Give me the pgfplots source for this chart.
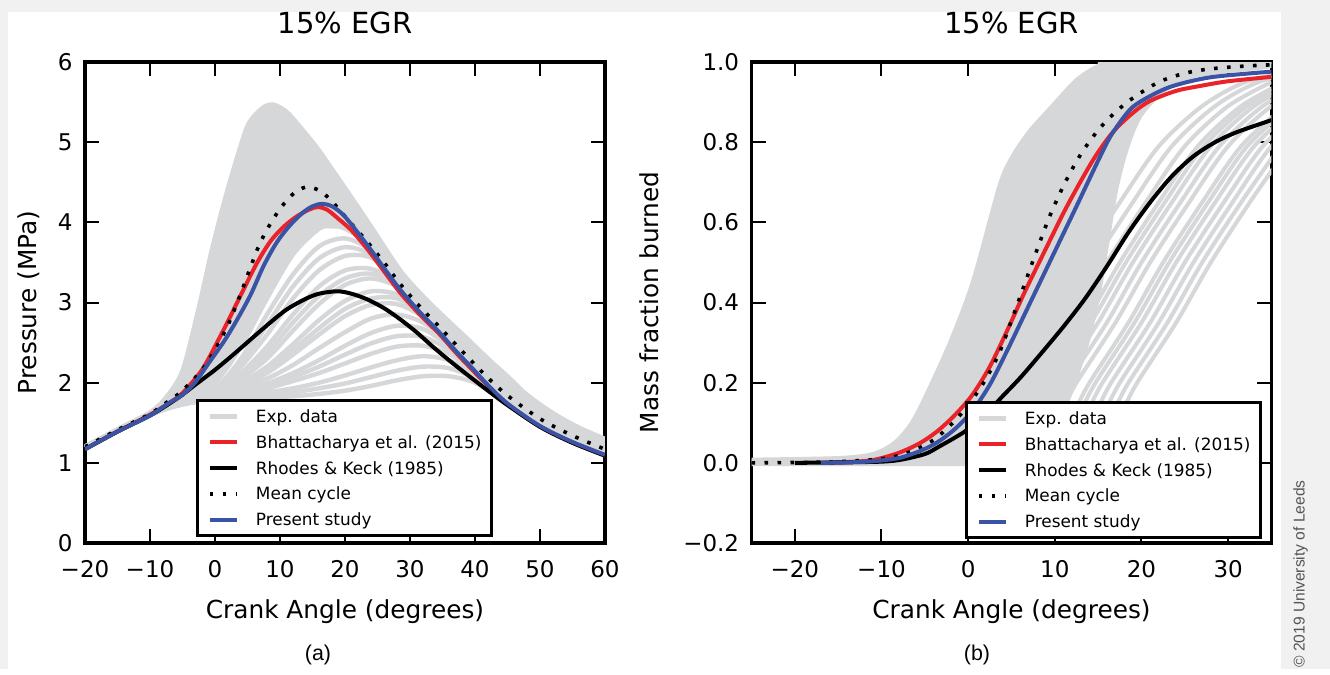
\documentclass[border=0pt]{standalone}
\usepackage{pgfplots}
\pgfplotsset{compat=1.18}
\usepackage{fontspec}
\setmainfont{DejaVu Sans}
\newfontfamily\arialfont{Liberation Sans}
\definecolor{expgray}{RGB}{214,215,217}
\definecolor{bred}{RGB}{234,35,40}
\definecolor{pblue}{RGB}{58,83,164}
\definecolor{bggray}{RGB}{241,241,241}
\definecolor{copygray}{RGB}{85,85,85}
\pgfplotsset{
  panel/.style={
    scale only axis, width=260pt, height=240.5pt,
    axis line style={line width=1.8pt},
    tick align=inside, xtick pos=both, ytick pos=both,
    major tick length=7pt,
    tick style={line width=1pt, black},
    tick label style={font=\fontsize{11.5}{13}\selectfont},
    xticklabel style={anchor=base, yshift=-17pt, inner sep=0pt},
    yticklabel style={anchor=east, xshift=-6pt, inner sep=0pt},
    label style={font=\fontsize{12.4}{15}\selectfont},
    xlabel style={at={(axis description cs:0.5,-0.156)}, anchor=base},
    title style={font=\fontsize{14.5}{17}\selectfont, at={(axis description cs:0.5,1)}, anchor=base, yshift=8.2pt},
    legend cell align=left,
    legend style={anchor=north west, draw=black, line width=1.5pt, fill=white,
      font=\fontsize{8.45}{10}\selectfont, inner xsep=5pt, inner ysep=1.5pt,
      column sep=8.5pt, row sep=0pt,
      nodes={inner sep=0pt, text height=9.5pt, text depth=3.4pt}},
    legend image code/.code={\draw[#1] (0pt,0pt) -- (13.5pt,0pt);},
  },
  exp/.style={expgray, line width=2.2pt, smooth, forget plot},
  expr/.style={expgray, line width=2pt, smooth, forget plot},
  redl/.style={bred, line width=2pt, smooth},
  blackl/.style={black, line width=2pt, smooth},
  bluel/.style={pblue, line width=2pt, smooth},
  meanl/.style={black, line width=1.8pt, dash pattern=on 1.8pt off 4.7pt, smooth},
}
\begin{document}
\begin{tikzpicture}
\fill[bggray] (0pt,0pt) rectangle (665pt,-334.5pt);
\fill[white] (4pt,-6pt) rectangle (640.5pt,-334.5pt);

% ---------------- Panel (a) ----------------
\begin{axis}[panel, at={(42.5pt,-271.5pt)}, anchor=south west,
  xmin=-20, xmax=60, ymin=0, ymax=6,
  xtick={-20,-10,0,10,20,30,40,50,60}, xticklabels={−20,−10,0,10,20,30,40,50,60},
  ytick={0,1,2,3,4,5,6}, yticklabels={0,1,2,3,4,5,6},
  title={15\% EGR}, xlabel={Crank Angle (degrees)}, ylabel={Pressure (MPa)},
  ylabel style={at={(axis description cs:-0.0933,0.5)}, anchor=base},
  legend style={at={(axis description cs:0.2135,0.2994)}}]
% envelope of the dense experimental cycles (upper cycle, then lower cycle reversed)
\addplot[fill=expgray, draw=none, smooth, forget plot] coordinates {(-20,1.2) (-15,1.42) (-10,1.63) (-7.5,1.82) (-5,2.15) (-2.6,2.9) (-0.5,3.65) (1.5,4.28) (3.4,4.81) (5.1,5.22) (7.2,5.42) (8.9,5.47) (11,5.38) (13,5.2) (15.8,4.92) (18.2,4.64) (20,4.43) (24,3.95) (28.5,3.4) (32,3.08) (35,2.84) (38.8,2.55) (42,2.3) (45,2.08) (48,1.85) (52,1.62) (56,1.44) (60,1.3)
 (60,1.16) (55,1.32) (50,1.52) (45,1.8) (40,2.15) (36,2.5) (32,2.9) (28,3.3) (24,3.7) (20,3.92) (18,3.95) (16,3.92) (12,3.6) (8,3.05) (4,2.45) (0,2.0) (-5,1.76) (-10,1.6) (-15,1.41) (-20,1.2)} -- cycle;
\addplot[exp] coordinates {(-20,1.2) (-15,1.42) (-10,1.63) (-7.5,1.82) (-5,2.15) (-2.6,2.9) (-0.5,3.65) (1.5,4.28) (3.4,4.81) (5.1,5.22) (7.2,5.42) (8.9,5.47) (11,5.38) (13,5.2) (15.8,4.92) (18.2,4.64) (20,4.43) (24,3.95) (28.5,3.4) (32,3.08) (35,2.84) (38.8,2.55) (42,2.3) (45,2.08) (48,1.85) (52,1.62) (56,1.44) (60,1.3)};
\addplot[exp] coordinates {(-20,1.2) (-15,1.41) (-10,1.6) (-5,1.76) (0,2.0) (4,2.45) (8,3.05) (12,3.6) (16,3.92) (18,3.95) (20,3.92) (24,3.7) (28,3.3) (32,2.9) (36,2.5) (40,2.15) (45,1.8) (50,1.52) (55,1.32) (60,1.16)};
\addplot[exp] coordinates {(-20,1.2) (-10,1.6) (-5,1.75) (0,1.93) (4,2.3) (8,2.85) (12,3.35) (16,3.7) (20,3.8) (24,3.65) (28,3.3) (32,2.9) (36,2.5) (40,2.15) (45,1.8) (50,1.52) (55,1.32) (60,1.16)};
\addplot[exp] coordinates {(-20,1.2) (-10,1.6) (-5,1.75) (0,1.92) (4,2.25) (8,2.72) (12,3.2) (16,3.55) (20,3.69) (24,3.6) (28,3.3) (32,2.91) (36,2.51) (40,2.15) (45,1.8) (50,1.52) (55,1.32) (60,1.16)};
\addplot[exp] coordinates {(-20,1.2) (-10,1.6) (-5,1.75) (0,1.9) (4,2.2) (8,2.6) (12,3.05) (16,3.4) (20,3.58) (24,3.56) (28,3.3) (32,2.92) (36,2.52) (40,2.16) (45,1.8) (50,1.52) (55,1.32) (60,1.16)};
\addplot[exp] coordinates {(-20,1.2) (-10,1.6) (-5,1.75) (0,1.88) (4,2.12) (8,2.45) (12,2.85) (16,3.2) (20,3.4) (24,3.42) (28,3.25) (32,2.92) (36,2.53) (40,2.17) (45,1.81) (50,1.53) (55,1.33) (60,1.17)};
\addplot[exp] coordinates {(-20,1.2) (-10,1.6) (-5,1.75) (0,1.87) (4,2.08) (8,2.37) (12,2.75) (16,3.08) (20,3.3) (24,3.36) (28,3.22) (32,2.92) (36,2.53) (40,2.17) (45,1.81) (50,1.53) (55,1.33) (60,1.17)};
\addplot[exp] coordinates {(-20,1.2) (-10,1.6) (-5,1.75) (0,1.86) (4,2.05) (8,2.3) (12,2.65) (16,2.98) (20,3.22) (24,3.3) (28,3.2) (32,2.92) (36,2.54) (40,2.18) (45,1.82) (50,1.53) (55,1.33) (60,1.17)};
\addplot[exp] coordinates {(-20,1.2) (-10,1.6) (-5,1.74) (0,1.85) (4,2.0) (8,2.2) (12,2.48) (16,2.78) (20,3.02) (24,3.14) (28,3.1) (32,2.88) (36,2.53) (40,2.18) (45,1.82) (50,1.53) (55,1.33) (60,1.17)};
\addplot[exp] coordinates {(-20,1.2) (-10,1.6) (-5,1.74) (0,1.845) (4,1.98) (8,2.16) (12,2.41) (16,2.68) (20,2.92) (24,3.05) (28,3.05) (32,2.85) (36,2.52) (40,2.18) (45,1.82) (50,1.53) (55,1.33) (60,1.17)};
\addplot[exp] coordinates {(-20,1.2) (-10,1.6) (-5,1.74) (0,1.84) (4,1.96) (8,2.12) (12,2.35) (16,2.6) (20,2.83) (24,2.97) (28,2.98) (32,2.82) (36,2.52) (40,2.18) (45,1.82) (50,1.53) (55,1.33) (60,1.17)};
\addplot[exp] coordinates {(-20,1.2) (-10,1.6) (-5,1.74) (0,1.83) (4,1.93) (8,2.05) (12,2.22) (16,2.43) (20,2.63) (24,2.8) (28,2.85) (32,2.75) (36,2.5) (40,2.18) (45,1.82) (50,1.53) (55,1.33) (60,1.17)};
\addplot[exp] coordinates {(-20,1.2) (-10,1.6) (-5,1.74) (0,1.82) (4,1.9) (8,1.99) (12,2.12) (16,2.28) (20,2.46) (24,2.62) (28,2.71) (32,2.67) (36,2.46) (40,2.17) (45,1.82) (50,1.53) (55,1.33) (60,1.17)};
\addplot[exp] coordinates {(-20,1.2) (-10,1.6) (-5,1.74) (0,1.815) (4,1.88) (8,1.96) (12,2.07) (16,2.2) (20,2.35) (24,2.49) (28,2.58) (32,2.57) (36,2.41) (40,2.15) (45,1.82) (50,1.53) (55,1.33) (60,1.17)};
\addplot[exp] coordinates {(-20,1.2) (-10,1.6) (-5,1.73) (0,1.81) (4,1.87) (8,1.93) (12,2.02) (16,2.12) (20,2.24) (24,2.36) (28,2.45) (32,2.46) (36,2.36) (40,2.14) (45,1.82) (50,1.53) (55,1.33) (60,1.17)};
\addplot[exp] coordinates {(-20,1.2) (-10,1.6) (-5,1.73) (0,1.8) (4,1.85) (8,1.88) (12,1.93) (16,2.0) (20,2.09) (24,2.19) (28,2.28) (32,2.33) (36,2.28) (40,2.1) (45,1.8) (50,1.52) (55,1.32) (60,1.16)};
\addplot[exp] coordinates {(-20,1.2) (-10,1.6) (-5,1.73) (0,1.795) (4,1.83) (8,1.85) (12,1.88) (16,1.93) (20,1.99) (24,2.07) (28,2.15) (32,2.2) (36,2.18) (40,2.05) (45,1.78) (50,1.51) (55,1.31) (60,1.15)};
\addplot[exp] coordinates {(-20,1.2) (-10,1.6) (-5,1.73) (0,1.79) (4,1.82) (8,1.82) (12,1.83) (16,1.86) (20,1.9) (24,1.96) (28,2.03) (32,2.08) (36,2.08) (40,2.0) (45,1.76) (50,1.5) (55,1.3) (60,1.14)};
\addlegendimage{expgray, line width=2.2pt}
\addlegendentry{Exp. data}
\addplot[redl] coordinates {(-20,1.17) (-15,1.39) (-10,1.6) (-7,1.75) (-5,1.87) (-2,2.16) (0.5,2.53) (2.5,2.85) (4.5,3.18) (6.5,3.5) (8.5,3.76) (10.5,3.94) (12.5,4.07) (14.5,4.16) (15.8,4.19) (17.2,4.16) (18.9,4.05) (21,3.9) (23.4,3.67) (26,3.39) (28.5,3.12) (31.5,2.85) (34.6,2.6) (37,2.38) (39.7,2.15) (42,1.96) (45,1.73) (50,1.45) (55,1.25) (60,1.09)};
\addlegendentry{Bhattacharya et al. (2015)}
\addplot[blackl] coordinates {(-20,1.17) (-15,1.39) (-10,1.59) (-7,1.74) (-5,1.85) (-3.1,1.97) (0,2.16) (3.1,2.37) (7.2,2.66) (10.8,2.9) (13.8,3.04) (16,3.11) (18.8,3.14) (21,3.11) (23.4,3.04) (26,2.93) (28.5,2.79) (31,2.63) (33.5,2.45) (36,2.28) (38.8,2.1) (42,1.9) (45,1.72) (50,1.45) (55,1.25) (60,1.09)};
\addlegendentry{Rhodes \& Keck (1985)}
\addplot[meanl] coordinates {(-20,1.2) (-15,1.41) (-10,1.61) (-7,1.78) (-5,1.9) (-2,2.16) (0,2.41) (2,2.72) (4,3.12) (6.6,3.68) (8.5,3.98) (10.3,4.2) (12.1,4.36) (14,4.44) (16,4.4) (17.8,4.28) (19.4,4.13) (21,3.98) (23.4,3.76) (26,3.5) (28.5,3.23) (31.5,2.95) (34.6,2.69) (37,2.48) (39.7,2.25) (42,2.06) (45,1.84) (50,1.55) (55,1.34) (60,1.17)};
\addlegendentry{Mean cycle}
\addplot[bluel] coordinates {(-20,1.17) (-15,1.39) (-10,1.59) (-7.2,1.74) (-5,1.85) (-3.1,2.0) (-1,2.24) (1.5,2.53) (3.5,2.8) (5.5,3.1) (7.5,3.46) (9.5,3.75) (11.5,3.96) (13.5,4.12) (15,4.2) (16.4,4.23) (18,4.2) (20,4.07) (23.4,3.72) (26,3.43) (28.5,3.16) (31.5,2.88) (34.6,2.62) (37,2.4) (39.7,2.17) (42,1.97) (45,1.74) (50,1.46) (55,1.26) (60,1.1)};
\addlegendentry{Present study}
\end{axis}

% ---------------- Panel (b) ----------------
\begin{axis}[panel, at={(375.75pt,-271.5pt)}, anchor=south west,
  xmin=-25, xmax=35, ymin=-0.2, ymax=1.0,
  xtick={-20,-10,0,10,20,30}, xticklabels={−20,−10,0,10,20,30},
  ytick={-0.2,0,0.2,0.4,0.6,0.8,1.0}, yticklabels={−0.2,0.0,0.2,0.4,0.6,0.8,1.0},
  title={15\% EGR}, xlabel={Crank Angle (degrees)}, ylabel={Mass fraction burned},
  ylabel style={at={(axis description cs:-0.1788,0.5)}, anchor=base},
  legend style={at={(axis description cs:0.4106,0.2952)}}]
\addplot[fill=expgray, draw=none, smooth, forget plot] coordinates {(-25,0.008) (-15,0.012) (-11,0.022) (-8.5,0.05) (-6.5,0.1) (-4.6,0.18) (-1.9,0.31) (0.6,0.456) (3.6,0.69) (5,0.76) (7,0.825) (9.7,0.89) (12.5,0.955) (15,0.99) (17,1.0) (35,1.0)
 (35,0.985) (26,0.96) (22.5,0.92) (20,0.86) (18.5,0.78) (17.3,0.68) (16.3,0.55) (15.3,0.42) (14,0.3) (12.5,0.2) (11,0.12) (9,0.06) (7,0.02) (4,-0.005) (0,-0.008) (-25,-0.008)} -- cycle;
\addplot[expr] coordinates {(-25,0.008) (-15,0.012) (-11,0.022) (-8.5,0.05) (-6.5,0.1) (-4.6,0.18) (-1.9,0.31) (0.6,0.456) (3.6,0.69) (5,0.76) (7,0.825) (9.7,0.89) (12.5,0.955) (15,0.99) (17,1.0) (35,1.0)};
\addplot[expr] coordinates {(-7,0) (-3,0.015) (0,0.05) (2.5,0.12) (4.5,0.2) (9,0.35) (13,0.5) (17.5,0.65) (22,0.79) (27,0.89) (32,0.95) (38,0.98)};
\addplot[expr] coordinates {(-5.5,0) (-1.5,0.015) (1.5,0.05) (4,0.12) (6,0.2) (10.5,0.35) (14.5,0.5) (19,0.65) (23.5,0.79) (28.5,0.89) (33.5,0.95) (39.5,0.98)};
\addplot[expr] coordinates {(-4,0) (0,0.015) (3,0.05) (5.5,0.12) (7.5,0.2) (12,0.35) (16,0.5) (20.5,0.65) (25,0.79) (30,0.89) (35,0.95)};
\addplot[expr] coordinates {(-2.5,0) (1.5,0.015) (4.5,0.05) (7,0.12) (9,0.2) (13.5,0.35) (17.5,0.5) (22,0.65) (26.5,0.79) (31.5,0.89) (36.5,0.95)};
\addplot[expr] coordinates {(-1.8,0) (2.2,0.015) (5.2,0.05) (7.7,0.12) (9.7,0.2) (14.2,0.35) (18.2,0.5) (22.7,0.65) (27.2,0.79) (32.2,0.89) (37.2,0.95)};
\addplot[expr] coordinates {(-1,0) (3,0.015) (6,0.05) (8.5,0.12) (10.5,0.2) (15,0.35) (19,0.5) (23.5,0.65) (28,0.79) (33,0.89) (38,0.95)};
\addplot[expr] coordinates {(0,0) (4,0.015) (7,0.05) (9.5,0.12) (11.5,0.2) (16,0.35) (20,0.5) (24.5,0.65) (29,0.79) (34,0.89) (39,0.95)};
\addplot[expr] coordinates {(1,0) (5,0.015) (8,0.05) (10.5,0.12) (12.5,0.2) (17,0.35) (21,0.5) (25.5,0.65) (30,0.79) (35,0.89) (40,0.95)};
\addplot[expr] coordinates {(2.5,0) (6.5,0.015) (9.5,0.05) (12,0.12) (14,0.2) (18.5,0.35) (22.5,0.5) (27,0.65) (31.5,0.79) (36.5,0.89)};
\addplot[expr] coordinates {(3.2,0) (7.2,0.015) (10.2,0.05) (12.7,0.12) (14.7,0.2) (19.2,0.35) (23.2,0.5) (27.7,0.65) (32.2,0.79) (37.2,0.89)};
\addplot[expr] coordinates {(4,0) (8,0.015) (11,0.05) (13.5,0.12) (15.5,0.2) (20,0.35) (24,0.5) (28.5,0.65) (33,0.79) (38,0.89)};
\addplot[expr] coordinates {(5,0) (9,0.015) (12,0.05) (14.5,0.12) (16.5,0.2) (21,0.35) (25,0.5) (29.5,0.65) (34,0.79) (39,0.89)};
\addplot[expr] coordinates {(6,0) (10,0.015) (13,0.05) (15.5,0.12) (17.5,0.2) (22,0.35) (26,0.5) (30.5,0.65) (35,0.79) (40,0.89)};
\addplot[expr] coordinates {(7,0) (11,0.015) (14,0.05) (16.5,0.12) (18.5,0.2) (23,0.35) (27,0.5) (31.5,0.65) (36,0.79)};
\addplot[expr] coordinates {(8,0) (12,0.015) (15,0.05) (17.5,0.12) (19.5,0.2) (24,0.35) (28,0.5) (32.5,0.65) (37,0.79)};
\addlegendimage{expgray, line width=2.2pt}
\addlegendentry{Exp. data}
\addplot[redl] coordinates {(-17,0) (-14,0.002) (-11,0.007) (-8,0.025) (-5.5,0.05) (-3.5,0.08) (-1.5,0.12) (0.5,0.17) (2.5,0.24) (4.5,0.33) (6.5,0.425) (8.8,0.527) (11.4,0.64) (14.4,0.755) (16.7,0.825) (19,0.873) (21,0.903) (24,0.928) (26.7,0.94) (30,0.952) (35,0.963)};
\addlegendentry{Bhattacharya et al. (2015)}
\addplot[blackl] coordinates {(-20,0) (-15,0.001) (-10,0.003) (-7.7,0.008) (-5,0.022) (-3.4,0.04) (-0.4,0.078) (2,0.12) (3.7,0.16) (6,0.212) (8.5,0.275) (11,0.34) (13.5,0.41) (16,0.49) (18.5,0.575) (21,0.65) (23.5,0.715) (26,0.765) (28.5,0.8) (31,0.825) (35,0.855)};
\addlegendentry{Rhodes \& Keck (1985)}
\addplot[meanl] coordinates {(-25,0) (-20,0.001) (-15,0.003) (-10,0.01) (-7,0.025) (-4,0.057) (-1.1,0.115) (1.5,0.19) (3.5,0.27) (5,0.355) (6.5,0.445) (8,0.535) (9.5,0.62) (11.2,0.7) (13,0.77) (15,0.83) (17,0.875) (19,0.91) (22,0.95) (25,0.972) (28,0.983) (32,0.99) (35,0.993)};
\addlegendentry{Mean cycle}
\addplot[bluel] coordinates {(-17,0) (-14,0.001) (-11,0.004) (-8,0.012) (-5.5,0.03) (-3.5,0.052) (-1.5,0.085) (0.5,0.13) (2.5,0.195) (4.5,0.28) (6.5,0.37) (8.5,0.46) (10.5,0.55) (12.5,0.64) (14.8,0.745) (16.3,0.81) (17.7,0.855) (19,0.888) (21,0.915) (23.6,0.94) (28,0.962) (35,0.976)};
\addlegendentry{Present study}
\end{axis}

\node[anchor=base, font=\arialfont\fontsize{10.7}{12}\selectfont] at (159pt,-330.3pt) {(a)};
\node[anchor=base, font=\arialfont\fontsize{10.7}{12}\selectfont] at (488.5pt,-330.3pt) {(b)};
\node[rotate=90, anchor=base, font=\arialfont\fontsize{7.8}{9}\selectfont, text=copygray] at (652.3pt,-287pt) {© 2019 University of Leeds};
\end{tikzpicture}
\end{document}
